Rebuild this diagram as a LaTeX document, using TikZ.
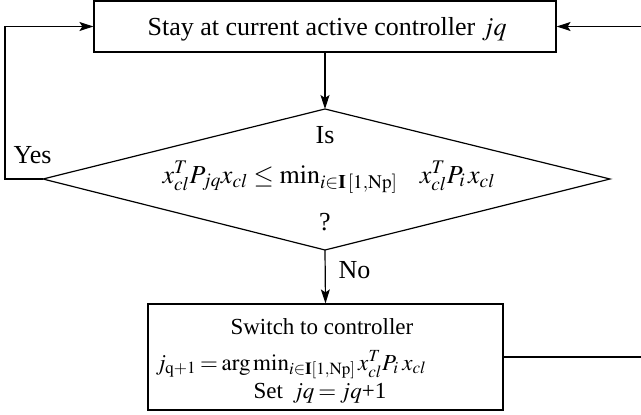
\documentclass[tikz,border=0pt]{standalone}
\usepackage{mathptmx}
\usepackage{fontspec}
\setmainfont{Liberation Serif}
\usetikzlibrary{arrows.meta}
\begin{document}
\begin{tikzpicture}[x=1pt,y=-1pt,
  font=\fontsize{26}{30}\selectfont,
  line width=1.2pt,
  arr/.style={-{Stealth[length=14pt,width=9pt,inset=3pt]}},
  boxnode/.style={draw, inner sep=0pt},
  txt/.style={anchor=base west, inner sep=0pt},
  small/.style={font=\fontsize{23}{27}\selectfont}]
\useasboundingbox (0,0) rectangle (641,415);
% top box
\node[boxnode, minimum width=462pt, minimum height=51pt] (top) at (325,26.5) {};
\node[txt] (ttxt) at (147,35) {Stay at current active controller $jq$};
% decision diamond
\coordinate (dT) at (325,109);
\coordinate (dL) at (43,179);
\coordinate (dR) at (610,179);
\coordinate (dB) at (325,250);
\draw (dT) -- (dR) -- (dB) -- (dL) -- cycle;
\node[anchor=base, inner sep=0pt] (is) at (325,143) {Is};
\node[txt] (cond) at (162,183) {$x_{cl}^{T}P_{jq}x_{cl}\le\min_{i\in\mathbf{I}\,[1,\mathrm{Np}]}\ \ \ x_{cl}^{T}P_{i}\,x_{cl}$};
\node[anchor=base, inner sep=0pt] (qm) at (325,230) {?};
% bottom box
\node[boxnode, minimum width=355pt, minimum height=106pt] (bot) at (325.5,357) {};
\node[txt, small] (l1) at (230,334) {Switch to controller};
\node[txt, small] (l2) at (155,370) {\thickmuskip=3mu\medmuskip=2mu$j_{\mathrm{q+1}}=\arg\min_{i\in\mathbf{I}[1,\mathrm{Np}]}x_{cl}^{T}P_{i}\;x_{cl}$};
\node[txt, small] (l3) at (253,398) {Set\ \,$jq\mkern3mu{=}\mkern3mu jq$+1};
% connectors
\draw[arr] (top.south) -- (dT);
\coordinate (lc) at (5,179);
\draw[arr] (dL) -- (lc) |- (top.west);
\node[txt] (yes) at (13,163) {Yes};
\draw[arr] (dB) -- (bot.north);
\node[txt] (no) at (338,278) {No};
\coordinate (rc) at (660,357);
\draw[arr] (bot.east) -- (rc) |- (top.east);
\end{tikzpicture}
\end{document}
